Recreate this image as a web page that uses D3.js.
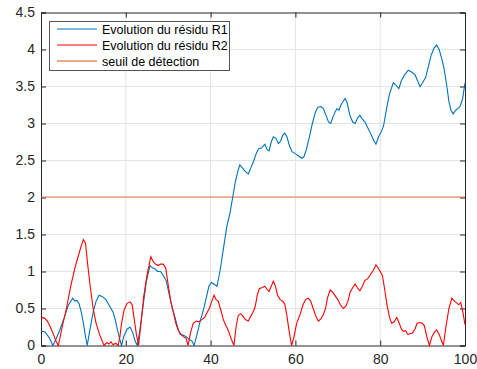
<!DOCTYPE html>
<html><head><meta charset="utf-8">
<script src="https://cdn.jsdelivr.net/npm/d3@7"></script>
<style>html,body{margin:0;padding:0;background:#fff}svg{display:block}</style>
</head><body>
<svg id="c" width="477" height="369"></svg>
<script>
const xTicks = [0, 20, 40, 60, 80, 100];
const yTicks = [0, 0.5, 1, 1.5, 2, 2.5, 3, 3.5, 4, 4.5];
const legendLabels = ["Evolution du résidu R1", "Evolution du résidu R2", "seuil de détection"];
const threshold = 2;

const r1X = [0,1,2,2.8,3.5,4.5,5.5,6.5,7.5,8,8.5,9,9.5,10,10.5,10.9,11.5,12.3,13,13.7,14.5,15.3,16,16.5,17,17.5,18,18.5,19,19.5,20.3,21,21.6,22.2,22.7,23.3,24,24.8,25.7,26.3,27,27.5,28.2,28.8,29.5,30.2,31,31.6,32.2,32.8,33.5,34.2,35,35.6,36.1,36.8,37.5,38.3,39,39.6,40.2,40.8,41.5,42.2,43,43.8,44.6,45.2,45.8,46.4,46.9,47.5,48.2,48.9,49.5,50.2,50.8,51.3,52,52.8,53.3,53.8,54.3,54.8,55.4,56,56.5,57,57.5,58,58.6,59.2,59.8,60.5,61,61.5,62,62.6,63.3,64,64.7,65.3,66,66.6,67.3,67.8,68.3,68.8,69.3,69.8,70.3,70.8,71.3,71.7,72.2,72.8,73.5,74.1,74.7,75.2,75.8,76.4,77,77.7,78.4,79,79.6,80.2,80.8,81.5,82.2,83.1,83.7,84.4,85,85.7,86.6,87.3,88.2,88.8,89.4,90,90.7,91.4,92,92.7,93.3,93.9,94.5,95,95.6,96.2,96.7,97.2,97.8,98.3,98.8,99.4,100];
const r1Y = [0.20,0.18,0.10,0.0,0.08,0.22,0.38,0.55,0.64,0.60,0.61,0.56,0.45,0.3,0.12,0.0,0.2,0.45,0.6,0.68,0.66,0.62,0.55,0.5,0.45,0.35,0.22,0.1,0.0,0.12,0.22,0.25,0.18,0.06,0.0,0.2,0.5,0.85,1.08,1.05,1.03,1.0,1.0,0.95,0.88,0.7,0.5,0.38,0.25,0.15,0.14,0.12,0.08,0.06,0.0,0.15,0.32,0.48,0.65,0.8,0.85,0.83,0.8,1.0,1.3,1.6,1.8,2.0,2.2,2.35,2.44,2.4,2.35,2.32,2.4,2.5,2.6,2.66,2.67,2.72,2.65,2.63,2.75,2.82,2.8,2.73,2.76,2.84,2.87,2.82,2.7,2.62,2.6,2.57,2.55,2.53,2.55,2.65,2.82,3.0,3.15,3.22,3.23,3.2,3.1,3.02,3.0,3.08,3.15,3.2,3.18,3.26,3.3,3.34,3.28,3.12,3.02,3.0,3.08,3.11,3.06,3.02,2.95,2.87,2.78,2.72,2.82,2.88,2.97,3.2,3.4,3.55,3.52,3.47,3.58,3.65,3.72,3.7,3.66,3.58,3.5,3.55,3.62,3.78,3.92,4.02,4.06,4.0,3.88,3.76,3.55,3.3,3.18,3.13,3.18,3.2,3.23,3.32,3.55];

const r2X = [0,0.8,1.5,2.2,3,3.6,4.1,5,6,7,8,9,9.5,10,10.5,11,11.6,12.3,13,13.8,14.5,14.9,15.5,16,16.5,17,17.6,18.2,18.6,19,19.6,20.3,21,21.5,22,22.5,23,23.6,24.2,25,25.9,26.5,27,27.6,28.2,28.8,29.4,30,30.6,31.2,31.8,32.4,33,33.6,34.2,34.7,35.3,35.9,36.6,37.2,37.9,38.6,39.2,39.7,40.3,40.8,41.3,41.8,42.4,43,43.6,44.2,44.8,45.5,46,46.5,47,47.6,48.2,48.9,49.5,50,50.5,51,51.5,52.1,52.8,53.3,53.8,54.3,54.8,55.3,55.8,56.4,57,57.5,58,58.5,59.1,59.6,60.3,61.1,61.8,62.4,63,63.6,64.2,64.8,65.4,66,66.6,67.1,67.6,68.2,68.8,69.4,70,70.6,71.3,71.9,72.4,72.9,73.5,74.1,74.6,75.2,75.8,76.4,77,77.6,78.2,78.7,79,79.5,80,80.5,81,81.6,82.2,82.7,83.3,83.9,84.5,85,85.5,86,86.5,87,87.6,88.2,88.7,89.3,89.9,90.4,91,91.6,92.2,92.8,93.3,93.9,94.5,94.9,95.5,96.2,96.9,97.5,98,98.5,99,99.5,100];
const r2Y = [0.38,0.37,0.33,0.25,0.14,0.05,0.0,0.25,0.5,0.8,1.05,1.25,1.35,1.43,1.38,1.1,0.8,0.5,0.3,0.15,0.05,0.0,0.04,0.02,0.05,0.01,0.03,0.0,0.12,0.3,0.48,0.57,0.59,0.55,0.35,0.15,0.0,0.3,0.65,0.95,1.2,1.13,1.1,1.08,1.1,1.1,1.05,0.82,0.6,0.45,0.3,0.2,0.15,0.12,0.1,0.0,0.18,0.3,0.33,0.32,0.35,0.38,0.45,0.5,0.6,0.68,0.62,0.6,0.48,0.35,0.27,0.2,0.1,0.0,0.25,0.4,0.43,0.4,0.35,0.33,0.4,0.45,0.52,0.68,0.77,0.78,0.8,0.76,0.73,0.8,0.87,0.8,0.68,0.62,0.6,0.56,0.4,0.2,0.0,0.1,0.3,0.42,0.55,0.62,0.64,0.6,0.5,0.4,0.33,0.36,0.42,0.5,0.65,0.75,0.72,0.67,0.62,0.55,0.5,0.53,0.6,0.72,0.78,0.83,0.78,0.74,0.8,0.88,0.9,0.95,1.0,1.05,1.09,1.05,1.0,0.95,0.78,0.55,0.38,0.3,0.32,0.38,0.3,0.22,0.19,0.2,0.15,0.16,0.17,0.22,0.3,0.31,0.3,0.27,0.12,0.0,0.12,0.18,0.21,0.15,0.06,0.0,0.25,0.5,0.64,0.6,0.58,0.55,0.58,0.45,0.28];

const W = 477, H = 369;
const m = {left: 41, right: 12, top: 12.5, bottom: 23.5};
const svg = d3.select("#c");
const x = d3.scaleLinear().domain([0, 100]).range([m.left, W - m.right]);
const y = d3.scaleLinear().domain([0, 4.5]).range([H - m.bottom, m.top]);
const font = "'Liberation Sans', Arial, Helvetica, sans-serif";
const axisCol = "#262626";

svg.append("rect").attr("width", W).attr("height", H).attr("fill", "#fff");

// grid
const g = svg.append("g");
g.selectAll(".gx").data(xTicks.slice(1, -1)).enter().append("line")
  .attr("x1", d => x(d)).attr("x2", d => x(d)).attr("y1", y(0)).attr("y2", y(4.5))
  .attr("stroke", "#e3e3e3").attr("stroke-width", 1);
g.selectAll(".gy").data(yTicks.slice(1, -1)).enter().append("line")
  .attr("y1", d => y(d)).attr("y2", d => y(d)).attr("x1", x(0)).attr("x2", x(100))
  .attr("stroke", "#e3e3e3").attr("stroke-width", 1);

// axes
const xAxis = svg.append("g").attr("transform", `translate(0,${y(0)})`)
  .call(d3.axisBottom(x).tickValues(xTicks).tickSize(-5).tickPadding(9).tickFormat(d3.format("d")));
const xAxisTop = svg.append("g").attr("transform", `translate(0,${y(4.5)})`)
  .call(d3.axisTop(x).tickValues(xTicks).tickSize(-5).tickFormat(""));
const yAxis = svg.append("g").attr("transform", `translate(${x(0)},0)`)
  .call(d3.axisLeft(y).tickValues(yTicks).tickSize(-5).tickPadding(6).tickFormat(d => String(d)));
const yAxisR = svg.append("g").attr("transform", `translate(${x(100)},0)`)
  .call(d3.axisRight(y).tickValues(yTicks).tickSize(-5).tickFormat(""));
[xAxis, xAxisTop, yAxis, yAxisR].forEach(a => {
  a.select(".domain").attr("stroke", axisCol).attr("stroke-width", 1);
  a.selectAll(".tick line").attr("stroke", axisCol);
  a.selectAll("text").attr("fill", axisCol).style("font-family", font).style("font-size", "14px");
});

// lines
const line = d3.line().x(d => x(d[0])).y(d => y(d[1]));
const r1 = r1X.map((v, i) => [v, r1Y[i]]);
const r2 = r2X.map((v, i) => [v, r2Y[i]]);
svg.append("path").datum([[0, threshold], [100, threshold]]).attr("d", line)
  .attr("transform", "translate(0,-0.5)")
  .attr("fill", "none").attr("stroke", "#E2793F").attr("stroke-width", 1.1);
svg.append("path").datum(r1).attr("d", line).attr("fill", "none").attr("stroke", "#0072BD").attr("stroke-width", 1.1);
svg.append("path").datum(r2).attr("d", line).attr("fill", "none").attr("stroke", "#FF0000").attr("stroke-width", 1.1);

// legend
const colors = ["#0072BD", "#FF0000", "#D95319"];
const lg = svg.append("g");
lg.append("rect").attr("x", 49.5).attr("y", 21.5).attr("width", 180).attr("height", 49)
  .attr("fill", "#fff").attr("stroke", "#555").attr("stroke-width", 1);
legendLabels.forEach((t, i) => {
  const yy = 29 + i * 16;
  lg.append("line").attr("x1", 57).attr("x2", 97).attr("y1", yy).attr("y2", yy)
    .attr("stroke", colors[i]).attr("stroke-width", 1.1);
  lg.append("text").attr("x", 102).attr("y", yy + 4.5).text(t)
    .attr("fill", "#000").style("font-family", font).style("font-size", "12.5px");
});
</script>
</body></html>
